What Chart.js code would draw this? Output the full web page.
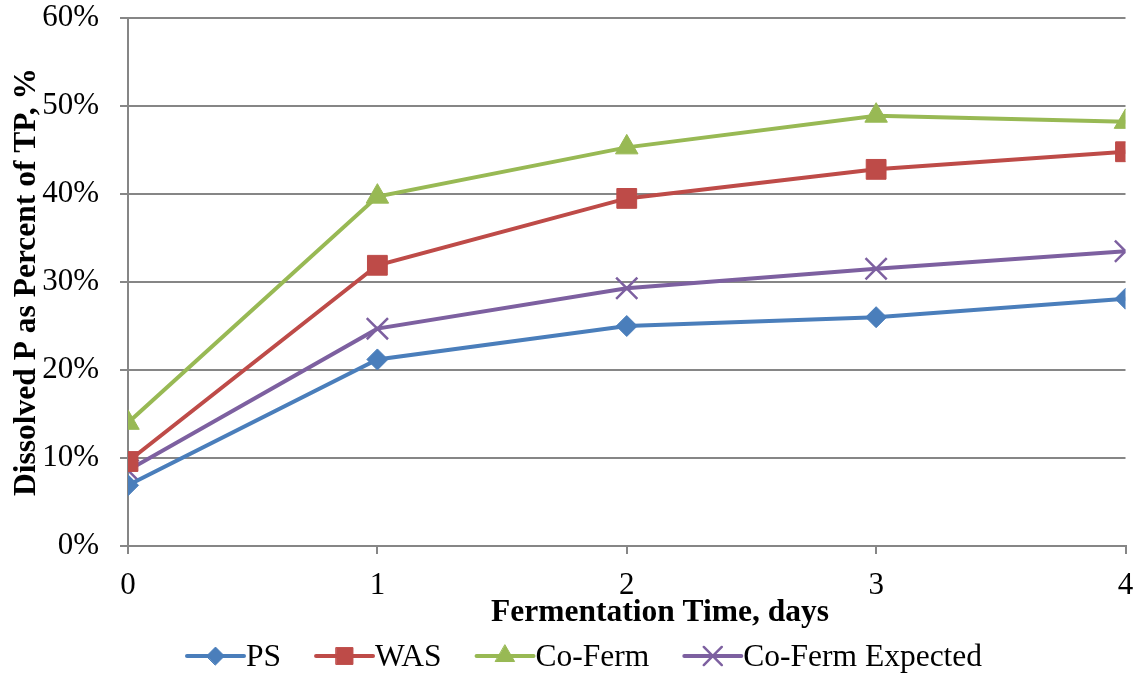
<!DOCTYPE html>
<html>
<head>
<meta charset="utf-8">
<script src="https://cdn.jsdelivr.net/npm/chart.js@4/dist/chart.umd.min.js"></script>
<style>
  html, body { margin: 0; padding: 0; background: #fff; }
</style>
</head>
<body>
<canvas id="chart" width="1143" height="674"></canvas>
<script>
// fermentation time, days
const days = [0, 1, 2, 3, 4];

// dissolved P as percent of TP
const psValues = [6.9, 21.2, 25.0, 26.0, 28.1];
const wasValues = [9.6, 31.9, 39.5, 42.8, 44.8];
const coFermValues = [14.0, 39.7, 45.3, 48.9, 48.2];
const expectedValues = [8.6, 24.7, 29.3, 31.5, 33.5];

const seriesNames = ['PS', 'WAS', 'Co-Ferm', 'Co-Ferm Expected'];
const seriesColors = ['#4A7EBB', '#BE4B48', '#98B954', '#7D60A0'];
const seriesMarkers = ['rectRot', 'rect', 'triangle', 'crossRot'];
const markerRadius = [10.5, 14, 13, 15];
const markerBorder = [1, 1, 1, 2.5];

const xTitle = 'Fermentation Time, days';
const yTitle = 'Dissolved P as Percent of TP, %';

const FONT = '"Liberation Serif", "Times New Roman", serif';

const toPoints = vals => vals.map((v, i) => ({ x: days[i], y: v }));

const makeSet = (idx, vals) => ({
  label: seriesNames[idx],
  data: toPoints(vals),
  borderColor: seriesColors[idx],
  backgroundColor: seriesColors[idx],
  pointBorderColor: seriesColors[idx],
  pointBackgroundColor: seriesColors[idx],
  pointStyle: seriesMarkers[idx],
  pointRadius: markerRadius[idx],
  pointBorderWidth: markerBorder[idx],
  borderWidth: 4,
  tension: 0
});

// x title (sits a bit right of centre in the original) and the line+marker legend
const extras = {
  id: 'extras',
  afterDraw(chart) {
    const ctx = chart.ctx;
    ctx.save();
    ctx.fillStyle = '#000';
    ctx.font = 'bold 31.5px ' + FONT;
    ctx.textAlign = 'center';
    ctx.textBaseline = 'middle';
    ctx.fillText(xTitle, 660, 613);

    const y = 656;
    const lineLen = 57;
    const gap = 2;
    const spacing = 35;
    ctx.font = '31.5px ' + FONT;
    const widths = seriesNames.map(n => lineLen + gap + ctx.measureText(n).width);
    let x = 187;
    chart.data.datasets.forEach((ds, i) => {
      ctx.strokeStyle = ds.borderColor;
      ctx.fillStyle = ds.borderColor;
      ctx.lineWidth = 4;
      ctx.lineCap = 'round';
      ctx.beginPath();
      ctx.moveTo(x, y);
      ctx.lineTo(x + lineLen, y);
      ctx.stroke();
      ctx.lineWidth = ds.pointBorderWidth;
      Chart.helpers.drawPoint(ctx, {
        pointStyle: ds.pointStyle,
        radius: ds.pointRadius * 0.85,
        rotation: 0,
        borderWidth: ds.pointBorderWidth
      }, x + lineLen / 2, y);
      ctx.fillStyle = '#000';
      ctx.textAlign = 'left';
      ctx.textBaseline = 'middle';
      ctx.fillText(seriesNames[i], x + lineLen + gap, y + 2);
      x += widths[i] + spacing;
    });
    ctx.restore();
  }
};

new Chart(document.getElementById('chart').getContext('2d'), {
  type: 'line',
  data: {
    datasets: [
      makeSet(0, psValues),
      makeSet(1, wasValues),
      makeSet(2, coFermValues),
      makeSet(3, expectedValues)
    ]
  },
  options: {
    responsive: false,
    animation: false,
    layout: { padding: { top: 0, right: 15, bottom: 43, left: 0 } },
    plugins: {
      legend: { display: false },
      tooltip: { enabled: false }
    },
    scales: {
      x: {
        type: 'linear',
        min: 0,
        max: 4,
        ticks: { stepSize: 1, color: '#000', font: { family: FONT, size: 31 }, padding: 13 },
        grid: { drawOnChartArea: false, color: '#868686', lineWidth: 2, tickLength: 8 },
        border: { color: '#868686', width: 2 },
        afterFit(scale) {
          scale.height = 85;
          scale.paddingLeft = 0;
          scale.paddingRight = 0;
        }
      },
      y: {
        min: 0,
        max: 60,
        ticks: {
          stepSize: 10,
          color: '#000',
          font: { family: FONT, size: 31 },
          padding: 21,
          callback: v => v + '%'
        },
        grid: { color: '#868686', lineWidth: 2, tickLength: 8 },
        border: { color: '#868686', width: 2 },
        title: {
          display: true,
          text: yTitle,
          color: '#000',
          font: { family: FONT, size: 31.5, weight: 'bold' },
          padding: { top: 8, bottom: 0 }
        },
        afterFit(scale) {
          scale.width = 128;
          scale.paddingTop = 18;
          scale.paddingBottom = 0;
        }
      }
    }
  },
  plugins: [extras]
});
</script>
</body>
</html>
